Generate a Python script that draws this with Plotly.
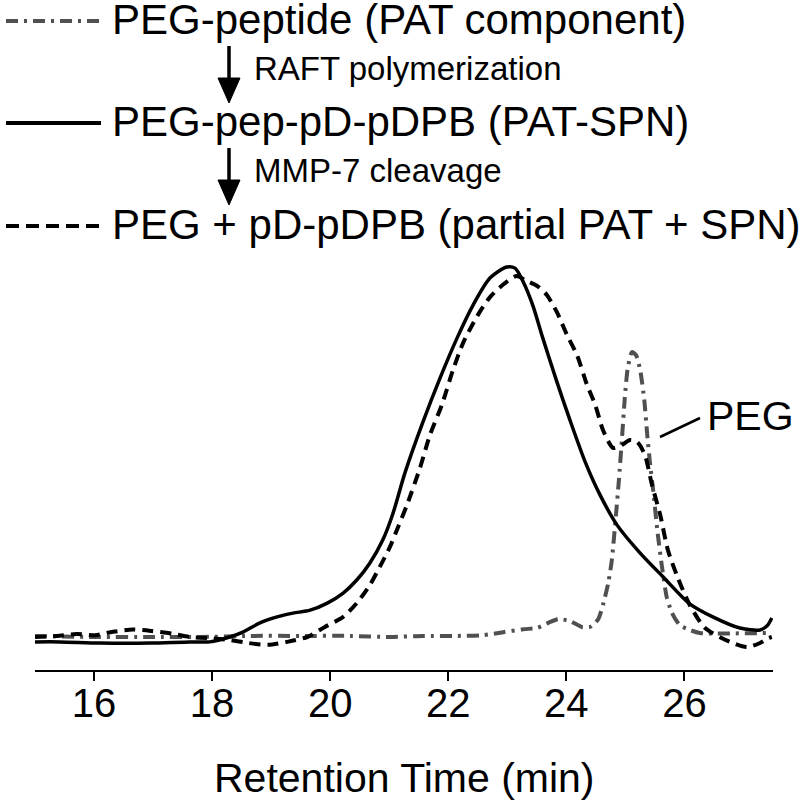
import plotly.graph_objects as go

# ---------------- data (retention time in min, normalized detector signal) ----------------
peg_peptide_t = [15.00, 16.10, 16.95, 17.79, 18.64, 19.49, 20.34, 21.01, 21.57, 22.15, 22.59, 22.93,
                 23.27, 23.50, 23.72, 23.86, 24.06, 24.26, 24.40, 24.54, 24.62, 24.71, 24.77, 24.84,
                 24.89, 24.94, 24.99, 25.04, 25.11, 25.18, 25.25, 25.32, 25.37, 25.42, 25.47, 25.54,
                 25.62, 25.70, 25.79, 25.92, 26.09, 26.26, 27.45]
peg_peptide_s = [0.011, 0.008, 0.008, 0.008, 0.011, 0.011, 0.011, 0.008, 0.011, 0.011, 0.013, 0.021,
                 0.029, 0.032, 0.048, 0.056, 0.051, 0.035, 0.035, 0.056, 0.094, 0.153, 0.214, 0.335,
                 0.429, 0.536, 0.649, 0.729, 0.772, 0.764, 0.724, 0.643, 0.550, 0.469, 0.402, 0.295,
                 0.196, 0.115, 0.072, 0.040, 0.027, 0.019, 0.019]

pat_spn_t = [15.00, 15.42, 16.10, 16.95, 17.63, 17.96, 18.30, 18.52, 18.81, 19.10, 19.37, 19.66,
             19.95, 20.22, 20.45, 20.67, 20.89, 21.06, 21.27, 21.57, 21.86, 22.15, 22.42, 22.71,
             22.99, 23.13, 23.27, 23.43, 23.60, 23.84, 24.06, 24.32, 24.57, 24.86, 25.25, 25.64,
             26.09, 26.48, 26.94, 27.28, 27.40, 27.48]
pat_spn_s = [-0.005, -0.005, -0.008, -0.008, -0.005, -0.005, 0.008, 0.021, 0.046, 0.062, 0.072, 0.080,
             0.099, 0.126, 0.161, 0.206, 0.268, 0.338, 0.450, 0.584, 0.702, 0.810, 0.898, 0.971,
             1.000, 0.997, 0.960, 0.898, 0.810, 0.692, 0.590, 0.477, 0.389, 0.308, 0.233, 0.169,
             0.097, 0.062, 0.032, 0.027, 0.038, 0.059]

cleaved_t = [15.00, 15.37, 15.71, 16.02, 16.32, 16.66, 16.98, 17.32, 17.63, 17.96, 18.30, 18.61,
             18.95, 19.27, 19.61, 19.91, 20.22, 20.45, 20.67, 20.84, 21.01, 21.15, 21.30, 21.52,
             21.69, 21.89, 22.08, 22.25, 22.50, 22.71, 22.96, 23.16, 23.30, 23.51, 23.67, 23.84,
             24.01, 24.18, 24.35, 24.49, 24.62, 24.79, 24.91, 25.08, 25.20, 25.33, 25.45, 25.59,
             25.72, 25.89, 26.09, 26.35, 26.77, 27.06, 27.28, 27.42, 27.48]
cleaved_s = [0.008, 0.011, 0.016, 0.013, 0.022, 0.028, 0.024, 0.017, 0.008, 0.005, 0.000, -0.008,
             -0.013, -0.005, 0.008, 0.035, 0.062, 0.099, 0.147, 0.196, 0.249, 0.303, 0.362, 0.461,
             0.550, 0.630, 0.724, 0.796, 0.871, 0.920, 0.957, 0.976, 0.965, 0.949, 0.925, 0.879,
             0.818, 0.764, 0.684, 0.630, 0.563, 0.515, 0.520, 0.536, 0.531, 0.496, 0.416, 0.335,
             0.241, 0.166, 0.094, 0.032, -0.005, -0.019, -0.008, 0.005, 0.008]

x_ticks = [16, 18, 20, 22, 24, 26]
legend_labels = ["PEG-peptide (PAT component)",
                 "PEG-pep-pD-pDPB (PAT-SPN)",
                 "PEG + pD-pDPB (partial PAT + SPN)"]
step_labels = ["RAFT polymerization", "MMP-7 cleavage"]
peak_label = "PEG"
x_title = "Retention Time (min)"

# ---------------- layout geometry ----------------
W, H = 800, 804
L, R, T, B = 35, 27, 260, 134
PW, PH = W - L - R, H - T - B
FONT = "Arial, Liberation Sans, sans-serif"
GRAY = "#505050"


def xp(px):
    return (px - L) / PW


def yp(py):
    return (H - B - py) / PH


fig = go.Figure()
fig.add_trace(go.Scatter(x=peg_peptide_t, y=peg_peptide_s, mode="lines",
                         line=dict(color=GRAY, width=4, dash="12px,6px,3px,6px",
                                   shape="spline", smoothing=0.6)))
fig.add_trace(go.Scatter(x=cleaved_t, y=cleaved_s, mode="lines",
                         line=dict(color="black", width=4, dash="11px,7px",
                                   shape="spline", smoothing=0.7)))
fig.add_trace(go.Scatter(x=pat_spn_t, y=pat_spn_s, mode="lines",
                         line=dict(color="black", width=3.5, shape="spline", smoothing=0.8)))

shapes = []
annotations = []

# key rows
rows = [(21, dict(color=GRAY, width=4, dash="12px,6px,3px,6px")),
        (123, dict(color="black", width=4)),
        (226, dict(color="black", width=4, dash="13px,7px"))]
for (y, ln), lab in zip(rows, legend_labels):
    shapes.append(dict(type="line", xref="paper", yref="paper",
                       x0=xp(6), x1=xp(101), y0=yp(y), y1=yp(y), line=ln))
    annotations.append(dict(text=lab, xref="paper", yref="paper", x=xp(110), y=yp(y - 1),
                            xanchor="left", yanchor="middle", showarrow=False,
                            font=dict(family=FONT, size=42, color="black")))

# arrows between rows
for (y0, y1), lab in zip([(46, 103), (148, 205)], step_labels):
    shapes.append(dict(type="line", xref="paper", yref="paper",
                       x0=xp(229), x1=xp(229), y0=yp(y0), y1=yp(y1 - 20),
                       line=dict(color="black", width=3.5)))
    path = "M {} {} L {} {} L {} {} Z".format(xp(218), yp(y1 - 25), xp(240), yp(y1 - 25),
                                              xp(229), yp(y1))
    shapes.append(dict(type="path", xref="paper", yref="paper", path=path,
                       fillcolor="black", line=dict(color="black", width=1)))
    annotations.append(dict(text=lab, xref="paper", yref="paper", x=xp(252),
                            y=yp((y0 + y1) / 2 - 6), xanchor="left", yanchor="middle",
                            showarrow=False, font=dict(family=FONT, size=33, color="black")))

# PEG callout
shapes.append(dict(type="line", xref="paper", yref="paper", x0=xp(660), y0=yp(437),
                   x1=xp(700), y1=yp(418), line=dict(color="black", width=2.5)))
annotations.append(dict(text=peak_label, xref="paper", yref="paper", x=xp(705), y=yp(416),
                        xanchor="left", yanchor="middle", showarrow=False,
                        font=dict(family=FONT, size=41, color="black")))

# x-axis title
annotations.append(dict(text=x_title, xref="paper", yref="paper", x=xp(405), y=yp(778),
                        xanchor="center", yanchor="middle", showarrow=False,
                        font=dict(family=FONT, size=41, color="black")))

fig.update_layout(
    width=W, height=H,
    margin=dict(l=L, r=R, t=T, b=B, pad=0),
    paper_bgcolor="white", plot_bgcolor="white",
    showlegend=False,
    shapes=shapes, annotations=annotations,
    xaxis=dict(range=[15, 27.5], tickvals=x_ticks, ticktext=[str(v) for v in x_ticks],
               showline=True, linecolor="black", linewidth=2, ticks="outside",
               ticklen=9, tickwidth=2, tickcolor="black", showgrid=False, zeroline=False,
               ticklabelstandoff=-12,
               tickfont=dict(family=FONT, size=40, color="black")),
    yaxis=dict(range=[-0.0804, 1.0188], visible=False, showgrid=False, zeroline=False),
)

fig.write_html("out.html", config={"displayModeBar": False},
               post_script="document.body.style.margin='0px';document.body.style.overflow='hidden';")
